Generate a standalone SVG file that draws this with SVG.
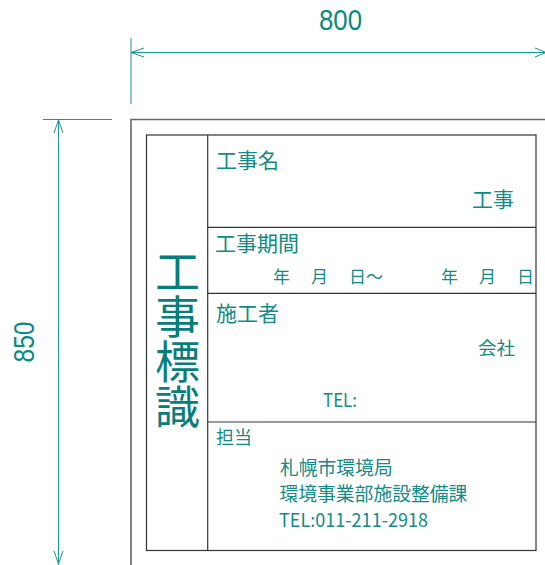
<svg xmlns="http://www.w3.org/2000/svg" width="545" height="565" viewBox="0 0 545 565">
<style>
.dim{stroke:#1a9690;stroke-width:1;fill:none}
.frame{stroke:#666;stroke-width:1.6;fill:none}
.tbl{stroke:#333;stroke-width:1.2;fill:none}
.dt{font-family:"Liberation Sans","Noto Sans",sans-serif;fill:#0a8a84}
.jp{font-family:"Noto Sans CJK JP","Noto Sans",sans-serif;fill:#138a86}
.big{font-family:"Noto Sans CJK JP","Noto Sans",sans-serif;fill:#087d7b;font-size:45px;writing-mode:vertical-rl}
</style>
<rect width="545" height="565" fill="#fff"/>
<g id="connectors">
  <line class="dim" x1="131" y1="38" x2="131" y2="104"/>
  <line class="dim" x1="131" y1="52.5" x2="546" y2="52.5"/>
  <polyline class="dim" points="144,48 131,52.5 144,57"/>
  <polyline class="dim" points="535,48 546,52.5 535,57"/>
  <line class="dim" x1="43" y1="119.5" x2="112" y2="119.5"/>
  <line class="dim" x1="58.5" y1="119.5" x2="58.5" y2="565"/>
  <polyline class="dim" points="54,133 58.5,120 63,133"/>
  <polyline class="dim" points="54,551 58.5,564 63,551"/>
</g>
<g id="dim-labels">
  <text class="dt" x="340.5" y="30" font-size="30" text-anchor="middle" textLength="43" lengthAdjust="spacingAndGlyphs">800</text>
  <text class="dt" x="0" y="0" font-size="30" text-anchor="middle" textLength="41" lengthAdjust="spacingAndGlyphs" transform="translate(34,342) rotate(-90)">850</text>
</g>
<g id="frame">
  <polyline class="frame" points="131,566 131,119.5 546,119.5"/>
</g>
<g id="table">
  <rect class="tbl" x="146.5" y="135" width="389.5" height="415.5"/>
  <line class="tbl" x1="207.7" y1="135" x2="207.7" y2="550.5"/>
  <line class="tbl" x1="207.7" y1="227.3" x2="536" y2="227.3"/>
  <line class="tbl" x1="207.7" y1="293.3" x2="536" y2="293.3"/>
  <line class="tbl" x1="207.7" y1="422" x2="536" y2="422"/>
</g>
<g id="title">
  <text class="big" x="177.5" y="249.5">工事標識</text>
</g>
<g id="row-name">
  <text class="jp" x="216" y="168" font-size="21">工事名</text>
  <text class="jp" x="514" y="207" font-size="21" text-anchor="end">工事</text>
</g>
<g id="row-period">
  <text class="jp" x="215" y="251" font-size="21">工事期間</text>
  <g class="jp" font-size="17">
    <text x="273" y="283">年</text>
    <text x="311" y="283">月</text>
    <text x="349" y="283">日～</text>
    <text x="441" y="283">年</text>
    <text x="479" y="283">月</text>
    <text x="517" y="283">日</text>
  </g>
</g>
<g id="row-contractor">
  <text class="jp" x="216" y="321" font-size="21">施工者</text>
  <text class="jp" x="515" y="355" font-size="18.5" text-anchor="end">会社</text>
  <text class="jp" x="323" y="407" font-size="19" textLength="34" lengthAdjust="spacingAndGlyphs">TEL:</text>
</g>
<g id="row-charge">
  <text class="jp" x="216" y="444" font-size="18">担当</text>
  <text class="jp" x="280" y="475" font-size="18.8">札幌市環境局</text>
  <text class="jp" x="279.5" y="501" font-size="18.8">環境事業部施設整備課</text>
  <text class="jp" x="279" y="526.5" font-size="19" textLength="149" lengthAdjust="spacingAndGlyphs">TEL:011-211-2918</text>
</g>
</svg>
